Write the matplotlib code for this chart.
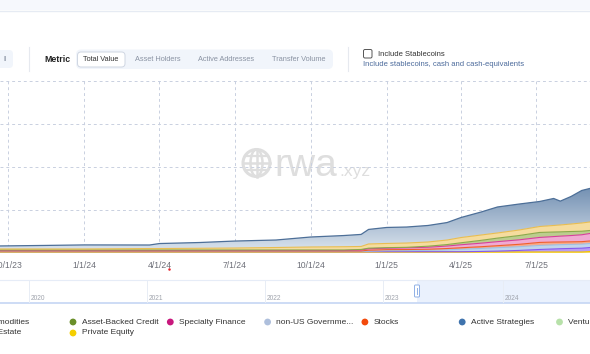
import numpy as np
import pandas as pd
import matplotlib
matplotlib.use("Agg")
import matplotlib.pyplot as plt
import matplotlib.dates as mdates
from matplotlib.colors import LinearSegmentedColormap
from matplotlib.patches import Rectangle, FancyBboxPatch, Circle, Ellipse
from matplotlib.ticker import FuncFormatter, MultipleLocator

# ---- data (total value, $B, stacked bottom -> top) ----
dates = pd.to_datetime([
    "2023-09-21", "2023-11-15", "2024-01-01", "2024-03-20", "2024-04-01",
    "2024-05-20", "2024-07-01", "2024-08-20", "2024-10-01", "2024-11-10",
    "2024-12-01", "2024-12-10", "2025-01-01", "2025-01-25", "2025-02-20",
    "2025-03-15", "2025-04-01", "2025-04-25", "2025-05-15", "2025-06-10",
    "2025-07-05", "2025-07-22", "2025-07-30", "2025-08-12", "2025-08-25",
    "2025-09-04",
])

private_equity = [0.12, 0.12, 0.12, 0.12, 0.12, 0.12, 0.12, 0.12, 0.12, 0.12,
                  0.12, 0.12, 0.12, 0.12, 0.12, 0.12, 0.12, 0.12, 0.12, 0.12,
                  0.12, 0.12, 0.12, 0.12, 0.12, 0.17]
inst_funds = [0.03, 0.03, 0.03, 0.03, 0.03, 0.03, 0.03, 0.03, 0.03, 0.03,
              0.03, 0.03, 0.03, 0.03, 0.03, 0.03, 0.03, 0.06, 0.10, 0.18,
              0.29, 0.35, 0.38, 0.41, 0.44, 0.47]
non_us_gov = [0.03, 0.03, 0.03, 0.03, 0.03, 0.03, 0.03, 0.03, 0.03, 0.03,
              0.03, 0.06, 0.12, 0.13, 0.16, 0.22, 0.29, 0.35, 0.40, 0.43,
              0.47, 0.47, 0.47, 0.47, 0.47, 0.47]
stocks = [0.05, 0.05, 0.05, 0.05, 0.05, 0.05, 0.05, 0.05, 0.05, 0.05,
          0.05, 0.12, 0.12, 0.12, 0.13, 0.15, 0.17, 0.20, 0.23, 0.28,
          0.35, 0.33, 0.31, 0.30, 0.29, 0.29]
specialty_finance = [0.06, 0.06, 0.06, 0.06, 0.06, 0.06, 0.06, 0.06, 0.06, 0.06,
                     0.12, 0.17, 0.17, 0.20, 0.23, 0.29, 0.35, 0.41, 0.47, 0.52,
                     0.58, 0.64, 0.68, 0.73, 0.80, 0.87]
asset_backed = [0.06, 0.06, 0.06, 0.06, 0.06, 0.06, 0.06, 0.06, 0.06, 0.06,
                0.06, 0.06, 0.06, 0.06, 0.12, 0.17, 0.23, 0.33, 0.41, 0.50,
                0.58, 0.53, 0.50, 0.47, 0.41, 0.35]
private_credit = [0.12, 0.12, 0.12, 0.17, 0.17, 0.20, 0.23, 0.29, 0.35, 0.38,
                  0.35, 0.49, 0.49, 0.50, 0.49, 0.53, 0.61, 0.62, 0.60, 0.64,
                  0.69, 0.76, 0.80, 0.87, 0.96, 0.99]
active_strategies = [0.35, 0.41, 0.47, 0.41, 0.58, 0.67, 0.81, 0.87, 1.16, 1.30,
                     1.40, 1.69, 1.86, 1.86, 1.92, 2.03, 2.33, 2.67, 3.02, 3.02,
                     2.91, 3.14, 2.77, 3.20, 3.78, 3.90]

layers = [
    (private_equity, "#f8e07a", "#f2c200"),
    (inst_funds, "#b89cf4", "#8458ee"),
    (non_us_gov, "#bfd5ec", "#9fbfe2"),
    (stocks, "#f7aa8a", "#ef5e2c"),
    (specialty_finance, "#f0aad2", "#d6409a"),
    (asset_backed, "#bccd8e", "#8ba94a"),
    (private_credit, "#f5dc9e", "#e8bd52"),
]

legend_row1 = ["Commodities", "Asset-Backed Credit", "Specialty Finance",
               "non-US Governme...", "Stocks", "Active Strategies", "Venture Capital"]
legend_row1_colors = ["#e0a03a", "#6a8f2a", "#c8187d", "#aebfdc", "#f34a0c",
                      "#3f73ad", "#b7e1a9"]
legend_row2 = ["Real Estate", "Private Equity"]
legend_row2_colors = ["#8c6d4f", "#f5cf00"]

metric_buttons = ["Total Value", "Asset Holders", "Active Addresses", "Transfer Volume"]
slider_years = ["2020", "2021", "2022", "2023", "2024"]

W, H = 590, 354
fig = plt.figure(figsize=(W / 100, H / 100), dpi=100)
fig.patch.set_facecolor("white")
FONT = ["Liberation Sans", "DejaVu Sans"]

# ---- UI overlay in pixel coordinates ----
ui = fig.add_axes([0, 0, 1, 1], zorder=0)
ui.set_xlim(0, W)
ui.set_ylim(H, 0)
ui.axis("off")

ui.add_patch(Rectangle((0, 0), W, 10, color="#f6f8fd", lw=0))
ui.plot([0, W], [10.5, 10.5], color="#e6ebf3", lw=1)

ui.add_patch(FancyBboxPatch((-10, 50), 23, 18, boxstyle="round,pad=0,rounding_size=4",
                            fc="#f1f5fb", ec="none"))
ui.text(4, 59.5, "ll", fontsize=5.5, color="#8a93a3", va="center", family=FONT)
for xs in (29, 348):
    ui.plot([xs, xs], [47, 71], color="#e6e9ef", lw=0.8)

ui.text(44, 59.5, "Metric", fontsize=6.3, fontweight="bold", color="#222",
        va="center", family=FONT)
ui.add_patch(FancyBboxPatch((76, 49.5), 257, 19.5, boxstyle="round,pad=0,rounding_size=5",
                            fc="#f1f5fb", ec="none"))
ui.add_patch(FancyBboxPatch((77.5, 52), 47.5, 15, boxstyle="round,pad=0,rounding_size=3.5",
                            fc="white", ec="#cfd6e2", lw=0.7))
for label, cx in zip(metric_buttons, [101, 158, 226.5, 298.5]):
    active = label == "Total Value"
    ui.text(cx, 59.5, label, fontsize=5.3, color="#333" if active else "#8a93a3",
            ha="center", va="center", family=FONT)

ui.add_patch(FancyBboxPatch((363.5, 49.5), 8.5, 8.5, boxstyle="round,pad=0,rounding_size=1.5",
                            fc="white", ec="#555", lw=0.7))
ui.text(377.5, 54, "Include Stablecoins", fontsize=5.5, color="#333", va="center", family=FONT)
ui.text(363, 64, "Include stablecoins, cash and cash-equivalents", fontsize=5.5,
        color="#4b6a9b", va="center", family=FONT)

# slider
ui.add_patch(Rectangle((0, 280), W, 22.5, fc="white", ec="none"))
ui.plot([0, W], [280.3, 280.3], color="#e6ecf7", lw=0.8)
ui.add_patch(Rectangle((417, 280.5), W - 417, 22, fc="#eaf1fd", ec="none"))
ui.plot([0, W], [302.5, 302.5], color="#c5d6f4", lw=1.2)
for yr, xs in zip(slider_years, [29, 147, 265, 383, 503]):
    ui.plot([xs, xs], [281, 302], color="#e8edf5", lw=0.7)
    ui.text(xs + 2, 299, yr, fontsize=4.8, color="#a0a4ad", va="center", family=FONT)
ui.add_patch(FancyBboxPatch((414.5, 285), 5, 12, boxstyle="round,pad=0,rounding_size=1",
                            fc="white", ec="#8fb0e6", lw=0.7))
ui.plot([417, 417], [288, 294], color="#8fb0e6", lw=0.7)

# legend (first column is cut off by the page edge, as in the screenshot)
ui.text(30, 322, legend_row1[0], fontsize=6, color="#333", ha="right", va="center", family=FONT)
for i, (lab, col) in enumerate(zip(legend_row1[1:], legend_row1_colors[1:])):
    mx = 73 + i * 97.3
    ui.add_patch(Circle((mx, 322), 3.4, color=col, lw=0))
    ui.text(mx + 8.5, 322, lab, fontsize=6, color="#333", va="center", family=FONT)
ui.text(21, 333, legend_row2[0], fontsize=6, color="#333", ha="right", va="center", family=FONT)
ui.add_patch(Circle((73, 333), 3.4, color=legend_row2_colors[1], lw=0))
ui.text(81.5, 333, legend_row2[1], fontsize=6, color="#333", va="center", family=FONT)

ui.plot([169], [268.5], "o", ms=1.8, color="#e8202a", mec="none")

# ---- main chart ----
ax = fig.add_axes([0, (H - 253) / H, 1, 172 / H], zorder=1)
ax.set_facecolor("none")
x0, x1 = pd.Timestamp("2023-09-21"), pd.Timestamp("2025-09-04")

base = np.zeros(len(dates))
for vals, fc, lc in layers:
    top = base + np.array(vals)
    ax.fill_between(dates, base, top, color=fc, lw=0, zorder=2)
    ax.plot(dates, top, color=lc, lw=0.8, zorder=3)
    base = top

total = base + np.array(active_strategies)
coll = ax.fill_between(dates, base, total, facecolor="none", lw=0, zorder=2)
cmap = LinearSegmentedColormap.from_list("blue_grad", ["#dde6ef", "#7491b3"])
grad = np.linspace(0, 1, 256).reshape(-1, 1)
im = ax.imshow(grad, cmap=cmap, origin="lower", aspect="auto", zorder=1.9,
               extent=[mdates.date2num(x0), mdates.date2num(x1), 0, total.max()])
im.set_clip_path(coll.get_paths()[0], ax.transData)
ax.plot(dates, total, color="#4d6f98", lw=0.9, zorder=3)

ax.set_xlim(x0, x1)
ax.set_ylim(0, 20)
ax.xaxis.set_major_locator(mdates.MonthLocator(bymonth=[1, 4, 7, 10], bymonthday=1))
ax.xaxis.set_major_formatter(FuncFormatter(
    lambda v, _: (lambda d: f"{d.month}/{d.day}/{d.year % 100:02d}")(mdates.num2date(v))))
ax.yaxis.set_major_locator(MultipleLocator(5))
ax.set_yticklabels([])
ax.tick_params(axis="both", length=0)
ax.tick_params(axis="x", pad=6, labelsize=6.2, labelcolor="#6e7079")
for lbl in ax.get_xticklabels():
    lbl.set_family(FONT)
ax.grid(True, color="#c9d0e0", lw=0.7, ls=(0, (3, 3)), zorder=0)
for sp in ax.spines.values():
    sp.set_visible(False)

# watermark
wm = "#dedede"
ax_wm = fig.add_axes([0, 0, 1, 1], zorder=0.5)
ax_wm.set_xlim(0, W)
ax_wm.set_ylim(H, 0)
ax_wm.axis("off")
ax_wm.add_patch(Circle((256.5, 163), 13.5, fill=False, ec=wm, lw=2.2))
ax_wm.add_patch(Ellipse((256.5, 163), 12, 27, fill=False, ec=wm, lw=1.8))
ax_wm.plot([256.5, 256.5], [149.5, 176.5], color=wm, lw=1.8)
ax_wm.plot([243, 270], [163, 163], color=wm, lw=1.8)
ax_wm.plot([245, 268], [156, 156], color=wm, lw=1.6)
ax_wm.plot([245, 268], [170, 170], color=wm, lw=1.6)
ax_wm.text(274, 176, "rwa", fontsize=28, color=wm, va="baseline", family=FONT)
ax_wm.text(339, 176, ".xyz", fontsize=12.5, color=wm, va="baseline", family=FONT)

fig.savefig("out.png", dpi=100)
